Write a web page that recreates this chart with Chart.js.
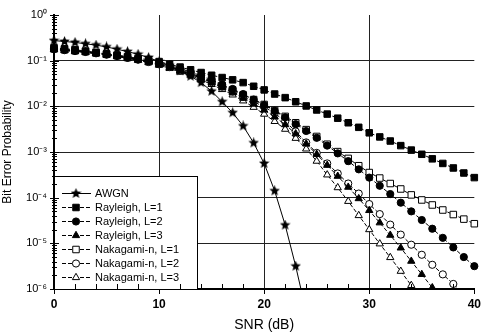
<!DOCTYPE html>
<html>
<head>
<meta charset="utf-8">
<script src="https://cdn.jsdelivr.net/npm/chart.js@4.4.1/dist/chart.umd.min.js"></script>
<style>
  html, body { margin: 0; padding: 0; background: #fff; }
  canvas { display: block; }
</style>
</head>
<body>
<canvas id="chart" width="489" height="335"></canvas>
<script>
// SNR axis (dB), one marker per dB
const snr = [0, 1, 2, 3, 4, 5, 6, 7, 8, 9, 10, 11, 12, 13, 14, 15, 16, 17, 18, 19, 20,
  21, 22, 23, 24, 25, 26, 27, 28, 29, 30, 31, 32, 33, 34, 35, 36, 37, 38, 39, 40];
const xTicks = [0, 10, 20, 30, 40];
const yTickLabels = ['10⁰', '10⁻¹', '10⁻²', '10⁻³', '10⁻⁴', '10⁻⁵', '10⁻⁶'];

// bit error probability
const awgn = [0.275, 0.263, 0.251, 0.234, 0.219, 0.200, 0.178, 0.158, 0.138, 0.117, 0.0955,
  0.0776, 0.0603, 0.0457, 0.0331, 0.0214, 0.0126, 0.00724, 0.00372, 0.00158, 5.62e-4,
  1.41e-4, 2.51e-5, 3.16e-6, 3.16e-7];
const rayleigh1 = [0.191, 0.182, 0.174, 0.162, 0.151, 0.141, 0.132, 0.123, 0.112, 0.105, 0.0955,
  0.0832, 0.0724, 0.0631, 0.0550, 0.0479, 0.0427, 0.0380, 0.0331, 0.0275, 0.0229,
  0.0186, 0.0155, 0.0126, 0.0102, 0.00832, 0.00676, 0.00550, 0.00437, 0.00347, 0.00263,
  0.00214, 0.00174, 0.00138, 0.00110, 8.91e-4, 7.08e-4, 5.62e-4, 4.47e-4, 3.47e-4, 2.75e-4];
const rayleigh2 = [0.182, 0.174, 0.166, 0.158, 0.148, 0.138, 0.129, 0.117, 0.107, 0.0977, 0.0871,
  0.0776, 0.0676, 0.0562, 0.0468, 0.0380, 0.0302, 0.0240, 0.0186, 0.0141, 0.0107,
  0.00794, 0.00575, 0.00407, 0.00288, 0.00204, 0.00138, 9.33e-4, 6.31e-4, 4.17e-4, 2.75e-4,
  1.82e-4, 1.20e-4, 7.76e-5, 5.01e-5, 3.24e-5, 2.09e-5, 1.32e-5, 8.13e-6, 5.01e-6, 3.16e-6];
const rayleigh3 = [0.178, 0.170, 0.162, 0.155, 0.145, 0.135, 0.126, 0.115, 0.105, 0.0933, 0.0832,
  0.0708, 0.0603, 0.0501, 0.0417, 0.0331, 0.0257, 0.0200, 0.0151, 0.0112, 0.00832,
  0.00589, 0.00398, 0.00251, 0.00151, 8.91e-4, 5.13e-4, 2.95e-4, 1.70e-4, 9.55e-5, 5.25e-5,
  2.82e-5, 1.51e-5, 7.94e-6, 4.07e-6, 2.09e-6, 1.07e-6, 5.37e-7];
const nakagami1 = [0.182, 0.174, 0.166, 0.158, 0.148, 0.138, 0.129, 0.117, 0.107, 0.0955, 0.0851,
  0.0741, 0.0631, 0.0525, 0.0437, 0.0355, 0.0282, 0.0229, 0.0178, 0.0141, 0.0110,
  0.00813, 0.00603, 0.00437, 0.00309, 0.00219, 0.00148, 0.00102, 7.24e-4, 5.01e-4, 3.55e-4,
  2.69e-4, 2.04e-4, 1.55e-4, 1.15e-4, 8.91e-5, 6.92e-5, 5.37e-5, 4.27e-5, 3.39e-5, 2.69e-5];
const nakagami2 = [0.178, 0.170, 0.162, 0.155, 0.145, 0.135, 0.126, 0.115, 0.105, 0.0933, 0.0832,
  0.0724, 0.0603, 0.0501, 0.0417, 0.0339, 0.0269, 0.0209, 0.0162, 0.0126, 0.00977,
  0.00708, 0.00468, 0.00282, 0.00162, 9.55e-4, 5.62e-4, 3.39e-4, 2.04e-4, 1.23e-4, 7.24e-5,
  4.37e-5, 2.57e-5, 1.55e-5, 9.33e-6, 5.62e-6, 3.39e-6, 2.09e-6, 1.29e-6, 7.94e-7];
const nakagami3 = [0.174, 0.166, 0.158, 0.151, 0.141, 0.132, 0.123, 0.112, 0.102, 0.0912, 0.0794,
  0.0676, 0.0562, 0.0468, 0.0380, 0.0302, 0.0234, 0.0178, 0.0132, 0.00955, 0.00676,
  0.00468, 0.00316, 0.00200, 0.00117, 6.31e-4, 3.16e-4, 1.66e-4, 8.32e-5, 4.07e-5, 2.00e-5,
  9.77e-6, 4.90e-6, 2.45e-6, 1.20e-6, 5.89e-7];

const seriesLabels = ['AWGN', 'Rayleigh, L=1', 'Rayleigh, L=2', 'Rayleigh, L=3',
  'Nakagami-n, L=1', 'Nakagami-n, L=2', 'Nakagami-n, L=3'];

// filled five point star, chart.js' own 'star' is only an asterisk
function makeStar(size) {
  const c = document.createElement('canvas');
  c.width = c.height = size;
  const g = c.getContext('2d');
  const r = size / 2, ri = r * 0.45;
  g.beginPath();
  for (let i = 0; i < 10; i++) {
    const a = -Math.PI / 2 + i * Math.PI / 5;
    const rr = i % 2 ? ri : r;
    g.lineTo(r + rr * Math.cos(a), r + rr * Math.sin(a));
  }
  g.closePath();
  g.fillStyle = '#000';
  g.fill();
  return c;
}
const star = makeStar(11);

const pts = (vals) => vals.map((v, i) => ({x: snr[i], y: v}));

const isDecade = (v) => {
  const e = Math.log10(v);
  return Math.abs(e - Math.round(e)) < 1e-6;
};

function series(label, vals, style, radius, fill, dash) {
  return {
    label: label,
    data: pts(vals),
    borderColor: '#000',
    borderWidth: 1,
    borderDash: dash,
    pointStyle: style,
    pointRadius: radius,
    pointBackgroundColor: fill,
    pointBorderColor: '#000',
    pointBorderWidth: 1,
    clip: {left: 6, right: 6, top: 6, bottom: 0},
    tension: 0,
  };
}

const datasets = [
  series(seriesLabels[0], awgn, star, 5, '#000', []),
  series(seriesLabels[1], rayleigh1, 'rect', 4.6, '#000', [4, 2]),
  series(seriesLabels[2], rayleigh2, 'circle', 3.6, '#000', [4, 2]),
  series(seriesLabels[3], rayleigh3, 'triangle', 4.2, '#000', [4, 2]),
  series(seriesLabels[4], nakagami1, 'rect', 4.6, '#fff', [4, 2]),
  series(seriesLabels[5], nakagami2, 'circle', 3.6, '#fff', [4, 2]),
  series(seriesLabels[6], nakagami3, 'triangle', 4.2, '#fff', [4, 2]),
];

// legend box sitting inside the plot, bottom left
const boxLegend = {
  id: 'boxLegend',
  afterDatasetsDraw(chart) {
    const ctx = chart.ctx;
    const area = chart.chartArea;
    const x0 = area.left, x1 = area.left + 143, y0 = area.bottom - 113, y1 = area.bottom;
    ctx.save();
    ctx.fillStyle = '#fff';
    ctx.fillRect(x0, y0, x1 - x0, y1 - y0);
    ctx.strokeStyle = '#000';
    ctx.lineWidth = 1;
    ctx.strokeRect(x0 + 0.5, y0 + 0.5, x1 - x0, y1 - y0);
    ctx.font = '11px Arial, "Liberation Sans", sans-serif';
    ctx.textBaseline = 'middle';
    chart.data.datasets.forEach((ds, i) => {
      const y = y0 + 17 + i * 14;
      ctx.strokeStyle = '#000';
      ctx.lineWidth = 1;
      ctx.setLineDash(ds.borderDash || []);
      ctx.beginPath();
      ctx.moveTo(x0 + 8, y + 0.5);
      ctx.lineTo(x0 + 37, y + 0.5);
      ctx.stroke();
      ctx.setLineDash([]);
      ctx.fillStyle = ds.pointBackgroundColor;
      Chart.helpers.drawPoint(ctx, {
        pointStyle: ds.pointStyle, radius: ds.pointRadius, rotation: 0, borderWidth: 1
      }, x0 + 22, y + 0.5);
      ctx.fillStyle = '#000';
      ctx.fillText(ds.label, x0 + 41, y + 1);
    });
    ctx.restore();
  },
  afterDraw(chart) {
    // minor ticks on both axes
    const ctx = chart.ctx;
    const area = chart.chartArea;
    const xs = chart.scales.x, ys = chart.scales.y;
    ctx.save();
    ctx.strokeStyle = '#000';
    ctx.lineWidth = 1;
    ctx.beginPath();
    for (let e = 0; e >= -6; e--) {
      for (let m = 1; m <= 9; m++) {
        const v = m * Math.pow(10, e);
        if (v > 1 || v < 1e-6) continue;
        const y = Math.round(ys.getPixelForValue(v)) + 0.5;
        const len = m === 1 ? 4 : 2;
        ctx.moveTo(area.left - len, y);
        ctx.lineTo(area.left + len + 1, y);
      }
    }
    for (let s = 0; s <= 40; s += 2) {
      const x = Math.round(xs.getPixelForValue(s)) + 0.5;
      if (s % 10 === 0) {
        ctx.moveTo(x, area.bottom);
        ctx.lineTo(x, area.bottom + 5);
      } else {
        ctx.moveTo(x, area.bottom);
        ctx.lineTo(x, area.bottom - 5);
      }
    }
    ctx.stroke();
    ctx.restore();
  }
};

Chart.defaults.font.family = 'Arial, "Liberation Sans", sans-serif';
Chart.defaults.color = '#000';

new Chart(document.getElementById('chart'), {
  type: 'line',
  data: {datasets: datasets},
  options: {
    responsive: false,
    animation: false,
    devicePixelRatio: 1,
    layout: {padding: {top: 15, right: 9, left: 0, bottom: 0}},
    plugins: {legend: {display: false}, tooltip: {enabled: false}},
    scales: {
      x: {
        type: 'linear',
        min: 0,
        max: 40,
        afterFit: (s) => { s.height = 46; },
        afterBuildTicks: (s) => { s.ticks = xTicks.map(v => ({value: v})); },
        ticks: {font: {size: 12, weight: 'bold'}, padding: 8, maxRotation: 0},
        grid: {
          drawTicks: false,
          color: (c) => (c.tick && c.tick.value > 0 && c.tick.value < 40) ? '#222' : 'rgba(0,0,0,0)',
        },
        border: {color: '#000', width: 2},
        title: {display: true, text: 'SNR (dB)', font: {size: 14}, padding: {top: 0, bottom: 1}},
      },
      y: {
        type: 'logarithmic',
        min: 1e-6,
        max: 1,
        afterFit: (s) => { s.width = 54; },
        ticks: {
          autoSkip: false,
          font: {size: 11},
          padding: 7,
          callback: (v) => isDecade(v) ? yTickLabels[-Math.round(Math.log10(v))] : '',
        },
        grid: {
          drawTicks: false,
          color: (c) => (c.tick && isDecade(c.tick.value) && c.tick.value < 0.5 && c.tick.value > 2e-6) ? '#222' : 'rgba(0,0,0,0)',
        },
        border: {color: '#000', width: 2},
        title: {display: true, text: 'Bit Error Probability', font: {size: 12}, padding: {top: 0, bottom: 0}},
      },
    },
  },
  plugins: [boxLegend],
});
</script>
</body>
</html>
